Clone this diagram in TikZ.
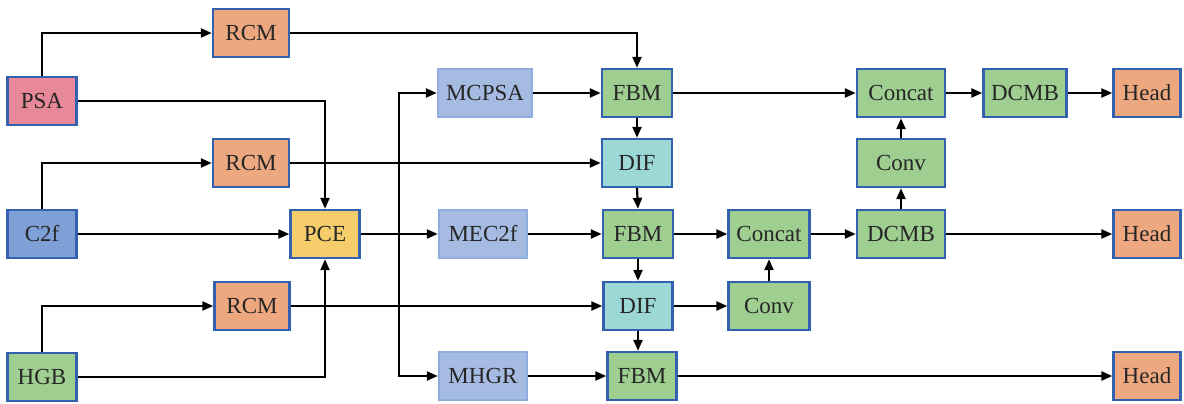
\documentclass[tikz,border=0pt]{standalone}
\usepackage{fontspec}
\setmainfont{Liberation Serif}
\newfontfamily\lserif{Liberation Serif}
\usetikzlibrary{arrows.meta}
\definecolor{bord}{RGB}{52,96,176}
\definecolor{lbord}{RGB}{142,172,222}
\definecolor{cpsa}{RGB}{231,137,152}
\definecolor{corange}{RGB}{238,168,128}
\definecolor{cblue}{RGB}{126,160,214}
\definecolor{cyellow}{RGB}{245,205,106}
\definecolor{cgreen}{RGB}{158,206,144}
\definecolor{clblue}{RGB}{166,187,226}
\definecolor{ccyan}{RGB}{156,216,214}
\begin{document}
\begin{tikzpicture}[x=1pt,y=-1pt,
  box/.style={draw=bord, line width=2.4pt, minimum height=48pt, inner sep=0pt, text=black!85, font=\lserif\fontsize{23}{23}\selectfont},
  lbox/.style={box, draw=lbord, fill=clblue},
  arr/.style={line width=2.2pt, -{Triangle[length=11pt,width=9pt]}},
  ln/.style={line width=2.2pt}]
\useasboundingbox (0,0) rectangle (1184,404);
% left column
\node[box,fill=cpsa,minimum width=69pt] (psa) at (42,101) {PSA};
\node[box,fill=cblue,minimum width=69pt] (c2f) at (42,234) {C2f};
\node[box,fill=cgreen,minimum width=69pt] (hgb) at (42,377) {HGB};
\node[box,fill=corange,minimum width=76pt] (rcma) at (251,33) {RCM};
\node[box,fill=corange,minimum width=76pt] (rcmb) at (251,163) {RCM};
\node[box,fill=corange,minimum width=75pt] (rcmc) at (252,306) {RCM};
\node[box,fill=cyellow,minimum width=69pt] (pce) at (325,234) {PCE};
% middle
\node[lbox,minimum width=94pt] (mcpsa) at (485,93) {MCPSA};
\node[lbox,minimum width=88pt] (mec) at (483,234) {MEC2f};
\node[lbox,minimum width=88pt] (mhgr) at (483,376) {MHGR};
\node[box,fill=cgreen,minimum width=70pt] (fbma) at (637,93) {FBM};
\node[box,fill=ccyan,minimum width=70pt] (difa) at (637,163) {DIF};
\node[box,fill=cgreen,minimum width=70pt] (fbmb) at (638,234) {FBM};
\node[box,fill=ccyan,minimum width=69pt] (difb) at (638,306) {DIF};
\node[box,fill=cgreen,minimum width=69pt] (fbmc) at (642,376) {FBM};
\node[box,fill=cgreen,minimum width=81pt] (cata) at (769,234) {Concat};
\node[box,fill=cgreen,minimum width=81pt] (conva) at (769,306) {Conv};
% right
\node[box,fill=cgreen,minimum width=88pt] (catb) at (901,93) {Concat};
\node[box,fill=cgreen,minimum width=88pt] (convb) at (901,163) {Conv};
\node[box,fill=cgreen,minimum width=88pt] (dcmba) at (901,234) {DCMB};
\node[box,fill=cgreen,minimum width=83pt] (dcmbb) at (1025,93) {DCMB};
\node[box,fill=corange,minimum width=67pt] (heada) at (1147,93) {Head};
\node[box,fill=corange,minimum width=67pt] (headb) at (1147,234) {Head};
\node[box,fill=corange,minimum width=67pt] (headc) at (1147,376) {Head};
% connectors left
\draw[arr] (psa.north) |- (rcma.west);
\draw[arr] (rcma.east) -| (fbma.north);
\draw[arr] (psa.east) -| (pce.north);
\draw[arr] (c2f.north) |- (rcmb.west);
\draw[arr] (rcmb.east) -- (difa.west);
\draw[arr] (c2f.east) -- (pce.west);
\draw[arr] (hgb.north) |- (rcmc.west);
\draw[arr] (rcmc.east) -- (difb.west);
\draw[arr] (hgb.east) -| (pce.south);
\coordinate (bus) at (399,234);
\draw[ln] (pce.east) -- (bus);
\draw[arr] (bus) |- (mcpsa.west);
\draw[arr] (bus) -- (mec.west);
\draw[arr] (bus) |- (mhgr.west);
% middle connectors
\draw[arr] (mcpsa.east) -- (fbma.west);
\draw[arr] (mec.east) -- (fbmb.west);
\draw[arr] (mhgr.east) -- (fbmc.west);
\draw[arr] (fbma.south) -- (difa.north);
\draw[arr] (difa.south) -- (fbmb.north);
\draw[arr] (fbmb.south) -- (difb.north);
\draw[arr] (difb.south) -- (difb.south |- fbmc.north);
\draw[arr] (fbmb.east) -- (cata.west);
\draw[arr] (difb.east) -- (conva.west);
\draw[arr] (conva.north) -- (cata.south);
% right connectors
\draw[arr] (fbma.east) -- (catb.west);
\draw[arr] (cata.east) -- (dcmba.west);
\draw[arr] (dcmba.north) -- (convb.south);
\draw[arr] (convb.north) -- (catb.south);
\draw[arr] (catb.east) -- (dcmbb.west);
\draw[arr] (dcmbb.east) -- (heada.west);
\draw[arr] (dcmba.east) -- (headb.west);
\draw[arr] (fbmc.east) -- (headc.west);
\end{tikzpicture}
\end{document}
